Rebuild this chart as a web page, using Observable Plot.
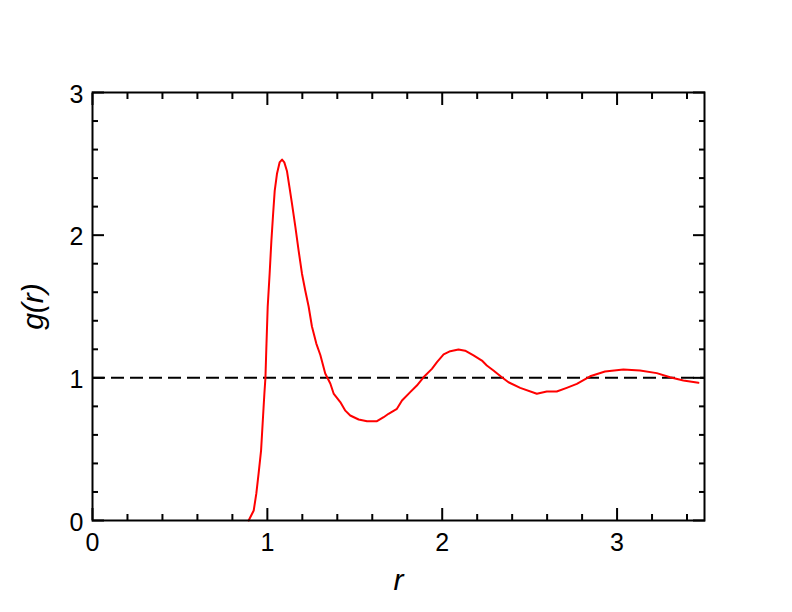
<!DOCTYPE html>
<html>
<head>
<meta charset="utf-8">
<script src="https://cdn.jsdelivr.net/npm/d3@7"></script>
<script src="https://cdn.jsdelivr.net/npm/@observablehq/plot@0.6"></script>
<style>
  html, body { margin: 0; padding: 0; background: #fff; }
</style>
</head>
<body>
<div id="chart"></div>
<script>
// ---- data ----
const rValues = [
  0.893, 0.922, 0.937, 0.950, 0.964, 0.973, 0.983, 0.989, 0.994, 1.002,
  1.013, 1.023, 1.033, 1.042, 1.055, 1.070, 1.084, 1.097, 1.112, 1.126,
  1.141, 1.160, 1.179, 1.198, 1.217, 1.236, 1.255, 1.280, 1.303, 1.331,
  1.360, 1.379, 1.398, 1.417, 1.446, 1.474, 1.522, 1.570, 1.627, 1.665,
  1.693, 1.741, 1.770, 1.817, 1.855, 1.893, 1.941, 1.970, 2.008, 2.046,
  2.093, 2.131, 2.179, 2.227, 2.255, 2.293, 2.341, 2.379, 2.446, 2.541,
  2.598, 2.655, 2.712, 2.770, 2.846, 2.931, 3.036, 3.131, 3.227, 3.303,
  3.379, 3.465
];
const gValues = [
  0.00, 0.07, 0.19, 0.33, 0.49, 0.68, 0.89, 1.00, 1.20, 1.50,
  1.73, 1.96, 2.15, 2.31, 2.43, 2.51, 2.53, 2.51, 2.45, 2.34,
  2.22, 2.06, 1.89, 1.73, 1.61, 1.50, 1.36, 1.24, 1.16, 1.03,
  0.96, 0.89, 0.86, 0.83, 0.77, 0.736, 0.708, 0.696, 0.696, 0.724,
  0.748, 0.783, 0.841, 0.900, 0.946, 1.004, 1.063, 1.110, 1.164, 1.187,
  1.199, 1.190, 1.157, 1.121, 1.086, 1.051, 1.004, 0.969, 0.930, 0.888,
  0.904, 0.904, 0.930, 0.958, 1.011, 1.044, 1.058, 1.051, 1.033, 1.004,
  0.981, 0.965
];
const referenceLevel = [1];
const xMajorTicks = [0, 1, 2, 3];
const xMinorTicks = [0.2, 0.4, 0.6, 0.8, 1.2, 1.4, 1.6, 1.8, 2.2, 2.4, 2.6, 2.8, 3.2, 3.4];
const yMajorTicks = [0, 1, 2, 3];
const yMinorTicks = [0.2, 0.4, 0.6, 0.8, 1.2, 1.4, 1.6, 1.8, 2.2, 2.4, 2.6, 2.8];
const xTitle = ["r"];
const yTitle = ["g(r)"];
const xDomain = [0, 3.5];
const yDomain = [0, 3];

// ---- chart ----
const data = rValues.map((r, i) => ({ r, g: gValues[i] }));
const blank = () => "";
const intLabel = d => String(d);
const tickOnly = (fn, ticks, anchor, size) =>
  fn(ticks, { anchor, tickSize: size, strokeWidth: 2, tickFormat: blank, label: null });

const chart = Plot.plot({
  width: 792,
  height: 612,
  marginLeft: 92,
  marginRight: 88,
  marginTop: 92,
  marginBottom: 92,
  style: {
    fontFamily: "'Liberation Sans', Arial, Helvetica, sans-serif",
    fontSize: "25px",
    color: "black",
    background: "white",
    overflow: "visible"
  },
  x: { domain: xDomain },
  y: { domain: yDomain },
  marks: [
    Plot.ruleY(referenceLevel, { stroke: "black", strokeWidth: 2, strokeDasharray: "13,6" }),
    Plot.line(data, { x: "r", y: "g", stroke: "red", strokeWidth: 2 }),
    // tick labels
    Plot.axisX(xMajorTicks, { anchor: "bottom", tickSize: 0, tickPadding: 13, label: null, fontSize: 25, tickFormat: intLabel }),
    Plot.axisY(yMajorTicks, { anchor: "left", tickSize: 0, tickPadding: 9, dy: 2, label: null, fontSize: 25, tickFormat: intLabel }),
    // inward ticks on all four sides
    tickOnly(Plot.axisX, xMajorTicks, "bottom", -12),
    tickOnly(Plot.axisX, xMinorTicks, "bottom", -6),
    tickOnly(Plot.axisX, xMajorTicks, "top", -12),
    tickOnly(Plot.axisX, xMinorTicks, "top", -6),
    tickOnly(Plot.axisY, yMajorTicks, "left", -12),
    tickOnly(Plot.axisY, yMinorTicks, "left", -6),
    tickOnly(Plot.axisY, yMajorTicks, "right", -12),
    tickOnly(Plot.axisY, yMinorTicks, "right", -6),
    // axis titles
    Plot.text(xTitle, { text: d => d, frameAnchor: "bottom", lineAnchor: "middle", textAnchor: "middle", dy: 60, fontSize: 30, fontStyle: "italic" }),
    Plot.text(yTitle, { text: d => d, frameAnchor: "left", lineAnchor: "middle", textAnchor: "middle", dx: -59, rotate: -90, fontSize: 30, fontStyle: "italic" }),
    Plot.frame({ stroke: "black", strokeWidth: 2 })
  ]
});
document.getElementById("chart").append(chart);
</script>
</body>
</html>
